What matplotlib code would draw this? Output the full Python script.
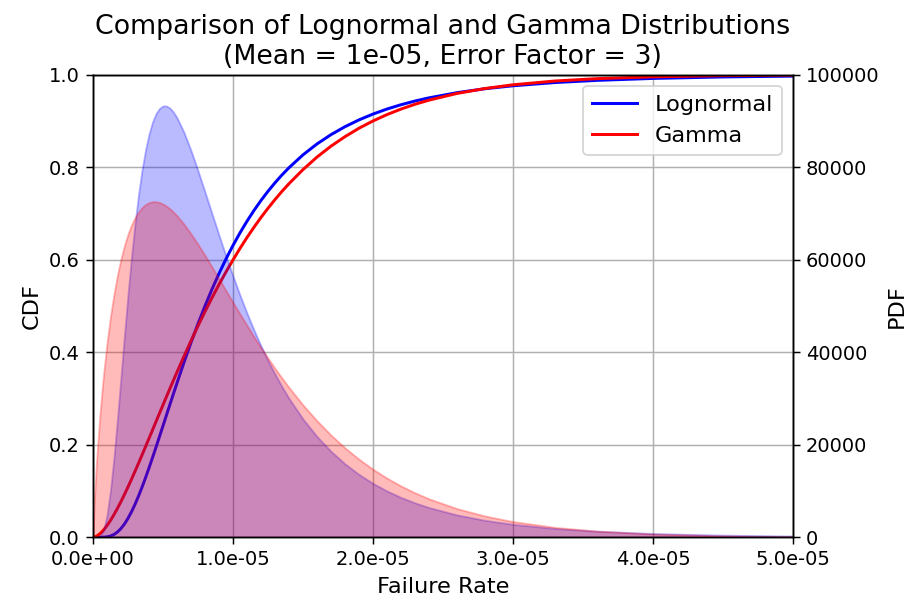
import numpy as np
import matplotlib
matplotlib.use('Agg')
import matplotlib.pyplot as plt
from matplotlib.ticker import FormatStrFormatter

# failure rate grid (x 1e-6)
rate = np.array([0, 0.1, 0.25, 0.5, 0.75,
                 1, 1.25, 1.5, 1.75, 2, 2.25, 2.5, 2.75, 3, 3.25, 3.5, 3.75,
                 4, 4.25, 4.5, 4.75, 5, 5.25, 5.5, 5.75,
                 6, 6.5, 7, 7.5, 8, 8.5, 9, 9.5, 10, 10.5, 11, 11.5, 12, 12.5,
                 13, 13.5, 14,
                 15, 16, 17, 18, 19, 20, 21, 22, 23, 24,
                 26, 28, 30, 33, 36, 40, 45, 50]) * 1e-6

lognorm_pdf = [0, 0, 3, 216, 1490,
               4687, 10036, 17204, 25610, 34610, 43700, 52417, 60480, 67706,
               73991, 79313, 83678, 87130, 89736, 91577, 92719, 93251, 93250,
               92783, 91924,
               90730, 87560, 83645, 79273, 74668, 69990, 65351, 60835, 56496,
               52369, 48474, 44819, 41406, 38230, 35285, 32560, 30041,
               25576, 21792, 18589, 15882, 13593, 11656, 10016, 8624, 7442, 6436,
               4842, 3674, 2810, 1907, 1315, 819, 469, 277]

lognorm_cdf = [0, 0, 0, 0.00002, 0.0002,
               0.0009, 0.0027, 0.0061, 0.0114, 0.0189, 0.0287, 0.0408, 0.0549,
               0.0709, 0.0887, 0.1079, 0.1283, 0.1496, 0.1718, 0.1944, 0.2175,
               0.2407, 0.2641, 0.2873, 0.3104,
               0.3332, 0.3779, 0.4207, 0.4614, 0.4999, 0.5361, 0.5699, 0.6015,
               0.6308, 0.6580, 0.6832, 0.7065, 0.7281, 0.7479, 0.7663, 0.7833,
               0.7989,
               0.8267, 0.8503, 0.8704, 0.8876, 0.9023, 0.9149, 0.9258, 0.9351,
               0.9431, 0.9500,
               0.9612, 0.9697, 0.9761, 0.9831, 0.9878, 0.9920, 0.9952, 0.9970]

gamma_pdf = [0, 8177, 16257, 26688, 35004,
             41895, 47684, 52569, 56700, 60180, 63090, 65508, 67489, 69081,
             70327, 71266, 71931, 72347, 72549, 72553, 72382, 72056, 71592,
             71006, 70309,
             69518, 67693, 65611, 63342, 60937, 58450, 55910, 53353, 50797,
             48279, 45806, 43378, 41027, 38745, 36546, 34434, 32406,
             28619, 25194, 22109, 19344, 16892, 14715, 12794, 11105, 9622, 8326,
             6208, 4607, 3405, 2152, 1350, 719, 324, 145]

gamma_cdf = [0, 0.0005, 0.0023, 0.0077, 0.0155,
             0.0251, 0.0363, 0.0489, 0.0626, 0.0772, 0.0926, 0.1087, 0.1253,
             0.1424, 0.1598, 0.1775, 0.1955, 0.2135, 0.2316, 0.2498, 0.2679,
             0.2859, 0.3039, 0.3217, 0.3394,
             0.3569, 0.3912, 0.4245, 0.4568, 0.4878, 0.5177, 0.5463, 0.5736,
             0.5996, 0.6244, 0.6480, 0.6702, 0.6914, 0.7112, 0.7300, 0.7478,
             0.7644,
             0.7948, 0.8219, 0.8455, 0.8660, 0.8843, 0.9000, 0.9138, 0.9257,
             0.9361, 0.9450,
             0.9595, 0.9702, 0.9782, 0.9864, 0.9915, 0.9955, 0.9980, 0.9991]

mean = 1e-05
error_factor = 3

dpi = 134
fig, ax1 = plt.subplots(figsize=(924 / dpi, 605 / dpi), dpi=dpi)
fig.subplots_adjust(left=0.1006, right=0.8582, bottom=0.1119, top=0.8765)

# CDF on the left axis
ax1.plot(rate, lognorm_cdf, color='blue', lw=1.6, label='Lognormal')
ax1.plot(rate, gamma_cdf, color='red', lw=1.6, label='Gamma')
ax1.set_xlim(0, 5e-5)
ax1.set_ylim(0, 1)
ax1.set_xlabel('Failure Rate', fontsize=12)
ax1.set_ylabel('CDF', fontsize=12)
ax1.xaxis.set_major_formatter(FormatStrFormatter('%.1e'))
ax1.tick_params(labelsize=10.5)
ax1.grid(True)
ax1.legend(loc='upper right', fontsize=12)

# PDF on the right axis
ax2 = ax1.twinx()
ax2.fill_between(rate, lognorm_pdf, color='blue', alpha=0.27)
ax2.fill_between(rate, gamma_pdf, color='red', alpha=0.27)
ax2.set_ylim(0, 100000)
ax2.set_ylabel('PDF', fontsize=12)
ax2.tick_params(labelsize=10.5)

ax1.set_title('Comparison of Lognormal and Gamma Distributions\n'
              '(Mean = %g, Error Factor = %d)' % (mean, error_factor), fontsize=14.4)

fig.savefig('out.png', dpi=dpi)
